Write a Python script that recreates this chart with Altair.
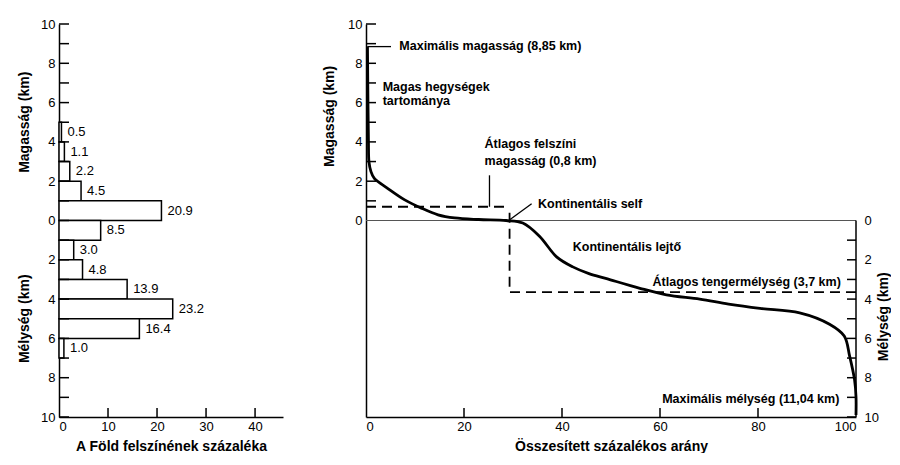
import altair as alt
import pandas as pd

# ---------------- data ----------------
band_bottom = [4, 3, 2, 1, 0, -1, -2, -3, -4, -5, -6, -7]
band_top = [5, 4, 3, 2, 1, 0, -1, -2, -3, -4, -5, -6]
band_percent = [0.5, 1.1, 2.2, 4.5, 20.9, 8.5, 3.0, 4.8, 13.9, 23.2, 16.4, 1.0]

curve_percent = [0.3, 0.4, 0.5, 0.6, 1.0, 1.7, 4.4, 7.9, 11.3, 14.7, 18.1, 23.0, 28.6,
                 32.0, 35.4, 38.9, 42.2, 45.5, 49.1, 55.9, 61.3, 68.1, 74.0, 80.4, 88.5,
                 94.6, 97.6, 98.7, 99.7, 100.0, 100.0]
curve_elev = [8.85, 6.0, 4.0, 3.0, 2.5, 2.14, 1.64, 1.05, 0.63, 0.29, 0.13, 0.05, 0.0,
              -0.13, -0.8, -1.85, -2.36, -2.7, -2.96, -3.45, -3.78, -4.0, -4.25, -4.47,
              -4.7, -5.28, -5.88, -6.9, -8.1, -8.97, -9.9]

mean_seg = ["up", "up", "down", "down", "down"]
mean_x = [0, 29.3, 29.3, 29.3, 100]
mean_y = [0.7, 0.7, 0.4, -3.65, -3.65]

leader_seg = ["a", "a", "b", "b", "c", "c"]
leader_x = [0.3, 5.1, 25.2, 25.2, 29.4, 33.8]
leader_y = [8.85, 8.85, 2.3, 0.7, 0.05, 0.85]

ann_left_text = ["Maximális magasság (8,85 km)", "Magas hegységek", "tartománya",
                 "Átlagos felszíni", "magasság (0,8 km)", "Kontinentális self",
                 "Kontinentális lejtő"]
ann_left_x = [6.8, 3.4, 3.4, 24.2, 24.2, 35.1, 42.2]
ann_left_y = [8.9, 6.78, 6.09, 3.9, 3.05, 0.83, -1.33]
ann_right_text = ["Átlagos tengermélység (3,7 km)", "Maximális mélység (11,04 km)"]
ann_right_x = [96.9, 96.6]
ann_right_y = [-3.13, -9.1]

y_titles = ["Magasság (km)", "Mélység (km)"]
y_title_pos = [5, -5]

left_y_ticks = list(range(-10, 11))
left_x_ticks = [10, 20, 30, 40]
right_up_ticks = list(range(1, 11))
right_down_ticks = list(range(-10, 0))
right_x_ticks = [20, 40, 60, 80]

# ---------------- setup ----------------
FONT = "Liberation Sans"
W1, W2, H = 224, 490, 393
yscale = alt.Scale(domain=[-10, 10], nice=False, zero=False)

y_axis1 = alt.Axis(values=list(range(-10, 11, 2)), labelExpr="abs(datum.value)",
                   title=None, labelPadding=4, domain=True)
y_axis2 = alt.Axis(values=list(range(0, 11, 2)), title=None, labelPadding=4, domain=True)


def Y(field, axis):
    return alt.Y(field, type="quantitative", scale=yscale, axis=axis, title=None)


# ---------------- left panel ----------------
hist = pd.DataFrame({"lo": band_bottom, "hi": band_top, "pct": band_percent,
                     "zero": [0] * len(band_percent)})
hist["mid"] = (hist["lo"] + hist["hi"]) / 2
hist["lab"] = [f"{v:.1f}" for v in band_percent]

xs1 = alt.Scale(domain=[0, 45.7], nice=False, zero=True)
x_axis1 = alt.Axis(values=[0, 10, 20, 30, 40], title="A Föld felszínének százaléka",
                   labelPadding=3, titlePadding=6, domain=True)


def X1(field):
    return alt.X(field, type="quantitative", scale=xs1, axis=x_axis1,
                 title="A Föld felszínének százaléka")


bars = alt.Chart(hist).mark_rect(fill="white", stroke="black", strokeWidth=1.5).encode(
    x=X1("pct"), x2="zero:Q", y=Y("lo", y_axis1), y2="hi:Q")
bar_labels = alt.Chart(hist).mark_text(align="left", baseline="middle", dx=6,
                                       font=FONT, fontSize=13, color="black").encode(
    x=X1("pct"), y=Y("mid", y_axis1), text="lab:N")
lt = pd.DataFrame({"v": left_y_ticks})
left_yticks = alt.Chart(lt).mark_rule(color="black", strokeWidth=1.5).encode(
    y=Y("v", y_axis1), x=alt.value(0), x2=alt.value(10))
lxt = pd.DataFrame({"v": left_x_ticks})
left_xticks = alt.Chart(lxt).mark_rule(color="black", strokeWidth=1.5).encode(
    x=X1("v"), y=alt.value(H), y2=alt.value(H - 9))
tdf = pd.DataFrame({"t": y_titles, "y": y_title_pos})
left_titles = alt.Chart(tdf).mark_text(angle=270, font=FONT, fontSize=14, fontWeight="bold",
                                       baseline="middle", align="center", color="black").encode(
    y=Y("y", y_axis1), x=alt.value(-34), text="t:N")

left_panel = alt.layer(bars, bar_labels, left_yticks, left_xticks, left_titles).properties(
    width=W1, height=H)

# ---------------- right panel ----------------
xs2 = alt.Scale(domain=[0, 100], nice=False, zero=True)
x_axis2 = alt.Axis(values=[0, 20, 40, 60, 80, 100], title="Összesített százalékos arány",
                   labelPadding=3, titlePadding=6, domain=True)


def X2(field):
    return alt.X(field, type="quantitative", scale=xs2, axis=x_axis2,
                 title="Összesített százalékos arány")


zero_df = pd.DataFrame({"x": [0, 100], "y": [0, 0]})
zero_line = alt.Chart(zero_df).mark_line(color="#555555", strokeWidth=1.2).encode(
    x=X2("x"), y=Y("y", y_axis2))

mean_df = pd.DataFrame({"x": mean_x, "y": mean_y, "seg": mean_seg,
                        "o": list(range(len(mean_x)))})
mean_lines = alt.Chart(mean_df).mark_line(color="black", strokeWidth=1.8,
                                          strokeDash=[10, 6]).encode(
    x=X2("x"), y=Y("y", y_axis2), detail="seg:N", order="o:Q")

lead_df = pd.DataFrame({"x": leader_x, "y": leader_y, "seg": leader_seg,
                        "o": list(range(len(leader_x)))})
leaders = alt.Chart(lead_df).mark_line(color="black", strokeWidth=1.3).encode(
    x=X2("x"), y=Y("y", y_axis2), detail="seg:N", order="o:Q")

curve_df = pd.DataFrame({"x": curve_percent, "y": curve_elev,
                         "o": list(range(len(curve_percent)))})
curve = alt.Chart(curve_df).mark_line(color="black", strokeWidth=2.8,
                                      interpolate="catmull-rom").encode(
    x=X2("x"), y=Y("y", y_axis2), order="o:Q")

al_df = pd.DataFrame({"x": ann_left_x, "y": ann_left_y, "t": ann_left_text})
ann_l = alt.Chart(al_df).mark_text(align="left", baseline="middle", font=FONT, fontSize=12.5,
                                   fontWeight="bold", color="black").encode(
    x=X2("x"), y=Y("y", y_axis2), text="t:N")
ar_df = pd.DataFrame({"x": ann_right_x, "y": ann_right_y, "t": ann_right_text})
ann_r = alt.Chart(ar_df).mark_text(align="right", baseline="middle", font=FONT, fontSize=12.5,
                                   fontWeight="bold", color="black").encode(
    x=X2("x"), y=Y("y", y_axis2), text="t:N")

rut = pd.DataFrame({"v": right_up_ticks})
r_up_ticks = alt.Chart(rut).mark_rule(color="black", strokeWidth=1.5).encode(
    y=Y("v", y_axis2), x=alt.value(0), x2=alt.value(10))
rdt = pd.DataFrame({"v": right_down_ticks})
r_down_ticks = alt.Chart(rdt).mark_rule(color="black", strokeWidth=1.5).encode(
    y=Y("v", y_axis2), x=alt.value(W2), x2=alt.value(W2 - 9))
rxt = pd.DataFrame({"v": right_x_ticks})
r_x_ticks = alt.Chart(rxt).mark_rule(color="black", strokeWidth=1.5).encode(
    x=X2("v"), y=alt.value(H), y2=alt.value(H - 9))

rt_df = pd.DataFrame({"t": [y_titles[0]], "y": [5.3]})
r_title_l = alt.Chart(rt_df).mark_text(angle=270, font=FONT, fontSize=14, fontWeight="bold",
                                       baseline="middle", align="center", color="black").encode(
    y=Y("y", y_axis2), x=alt.value(-36), text="t:N")
rt2_df = pd.DataFrame({"t": [y_titles[1]], "y": [-4.9]})
r_title_r = alt.Chart(rt2_df).mark_text(angle=270, font=FONT, fontSize=14, fontWeight="bold",
                                        baseline="middle", align="center", color="black").encode(
    y=Y("y", y_axis2), x=alt.value(W2 + 28), text="t:N")

main_right = alt.layer(zero_line, mean_lines, leaders, curve, ann_l, ann_r,
                       r_up_ticks, r_down_ticks, r_x_ticks, r_title_l, r_title_r)

raxis_df = pd.DataFrame({"a": [0], "b": [-10]})
y_axis_r = alt.Axis(orient="right", values=list(range(-10, 1, 2)),
                    labelExpr="abs(datum.value)", title=None, domain=False, labelPadding=8)
right_axis_line = alt.Chart(raxis_df).mark_rule(color="black", strokeWidth=1.5).encode(
    y=Y("a", y_axis_r), y2="b:Q", x=alt.value(W2))

right_panel = alt.layer(main_right, right_axis_line).resolve_axis(y="independent").properties(
    width=W2, height=H)

chart = alt.hconcat(left_panel, right_panel, spacing=40).properties(
    padding={"left": 10, "top": 10, "right": 0, "bottom": 0},
    background="white",
).configure_view(stroke=None).configure_axis(
    labelFont=FONT, labelFontSize=13, labelColor="black",
    domainColor="black", domainWidth=1.5,
    titleFont=FONT, titleFontSize=14, titleFontWeight="bold", titleColor="black",
    grid=False, ticks=False,
)

chart.save("out.html", embed_options={"renderer": "svg", "actions": False})
